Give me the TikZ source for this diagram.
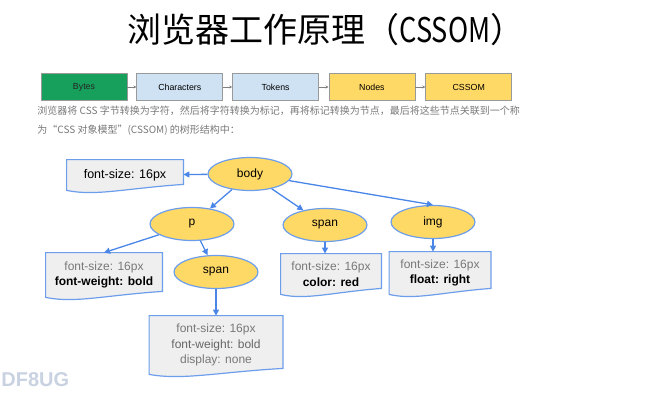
\documentclass[tikz,border=0pt]{standalone}
\usepackage{fontspec}
\setmainfont{Liberation Sans}
\newfontfamily\cjk{Noto Sans CJK SC}
\usetikzlibrary{arrows.meta, positioning, shapes.geometric, backgrounds, calc}
\usepackage{xcolor}

\definecolor{bytegreen}{RGB}{22,160,92}
\definecolor{charblue}{RGB}{207,226,243}
\definecolor{nodeyellow}{RGB}{255,217,102}
\definecolor{linkblue}{RGB}{74,134,232}
\definecolor{rimblue}{RGB}{109,158,235}
\definecolor{boxgray}{RGB}{239,239,239}
\definecolor{softgray}{RGB}{120,120,120}
\definecolor{markgray}{RGB}{200,210,225}

\begin{document}
\begin{tikzpicture}[
    x=1pt, y=-1pt,
    thick,
    stage/.style={rectangle, draw=gray!80, line width=0.8pt, minimum width=86pt, minimum height=27pt, inner sep=0pt, font=\fontsize{8.8}{10}\selectfont},
    flow/.style={draw=gray, line width=0.8pt, -{Stealth[length=3pt, width=3pt]}},
    tag node/.style={ellipse, fill=nodeyellow, draw=rimblue, line width=1.2pt, minimum width=84pt, minimum height=33pt, inner sep=0pt, font=\fontsize{12}{14}\selectfont},
    rule box/.style={rectangle, inner sep=0pt, align=center, font=\fontsize{12}{15.5}\selectfont},
    link/.style={draw=linkblue, line width=1.3pt, -{Triangle[length=6pt, width=6pt]}}
]
    \useasboundingbox (0,0) rectangle (646,392);

    % Title and caption
    \node[font=\cjk\fontsize{34}{40}\selectfont] (title) at (326,30) {浏览器工作原理（\scalebox{0.8}[1]{CSSOM}）};
    \node[anchor=north west, inner sep=0pt, align=left, text=softgray, font=\cjk\fontsize{10}{19}\selectfont] (caption) at (37,106)
        {浏览器将 CSS 字节转换为字符，然后将字符转换为标记，再将标记转换为节点，最后将这些节点关联到一个称\\为“CSS 对象模型”(CSSOM) 的树形结构中：};

    % Pipeline
    \node[stage, fill=bytegreen, text=black!85] (bytes) at (84,87) {Bytes};
    \node[stage, fill=charblue, right=9pt of bytes] (chars) {Characters};
    \node[stage, fill=charblue, right=9pt of chars] (tokens) {Tokens};
    \node[stage, fill=nodeyellow, right=9.5pt of tokens] (nodes) {Nodes};
    \node[stage, fill=nodeyellow, right=10pt of nodes] (cssom) {CSSOM};
    \draw[flow] (bytes) -- (chars);
    \draw[flow] (chars) -- (tokens);
    \draw[flow] (tokens) -- (nodes);
    \draw[flow] (nodes) -- (cssom);

    % Tree nodes
    \node[tag node] (body) at (250,174) {body};
    \node[tag node] (p) at (192,224) {p};
    \node[tag node] (span) at (325,225) {span};
    \node[tag node] (img) at (433,222) {img};
    \node[tag node] (innerspan) at (216,272) {span};

    % Style boxes
    \node[rule box, minimum width=116pt, minimum height=30pt, font=\fontsize{12.5}{15}\selectfont] (bodybox) at (125,175) {font-size: 16px};
    \node[rule box, minimum width=116pt, minimum height=44pt] (pbox) at (104,275)
        {\textcolor{softgray}{font-size: 16px}\\\textbf{font-weight: bold}};
    \node[rule box, minimum width=100pt, minimum height=40pt] (spanbox) at (331,274)
        {\textcolor{softgray}{font-size: 16px}\\\textbf{color: red}};
    \node[rule box, minimum width=101pt, minimum height=42pt] (imgbox) at (440,273)
        {\textcolor{softgray}{font-size: 16px}\\\textbf{float: right}};
    \node[rule box, minimum width=133pt, minimum height=58pt, text=softgray] (innerbox) at (216,345)
        {font-size: 16px\\\textcolor{black!60}{font-weight: bold}\\display: none};

    % Document outlines
    \begin{scope}[on background layer]
        \foreach \b in {bodybox, pbox, spanbox, imgbox, innerbox} {
            \filldraw[fill=boxgray, draw=rimblue, line width=1.2pt]
                (\b.north west) -- (\b.north east) -- ([yshift=6pt]\b.south east)
                .. controls ($(\b.south)+(0,-2)$) and ($(\b.south west)!.5!(\b.south)+(0,6)$) .. (\b.south west) -- cycle;
        }
    \end{scope}

    % Links
    \draw[link] (body) -- (bodybox);
    \draw[link] (body) -- (p);
    \draw[link] (body) -- (span);
    \draw[link] (body) -- (img.north);
    \draw[link] (p) -- (pbox.north);
    \draw[link] (p) -- (innerspan);
    \draw[link] (span) -- (span |- spanbox.north);
    \draw[link] (img) -- (img |- imgbox.north);
    \draw[link] (innerspan) -- (innerbox);

    % Watermark
    \node[anchor=north west, inner sep=0pt, text=markgray, font=\fontsize{20}{22}\selectfont\bfseries] (mark) at (1,372) {DF8UG};
\end{tikzpicture}
\end{document}
